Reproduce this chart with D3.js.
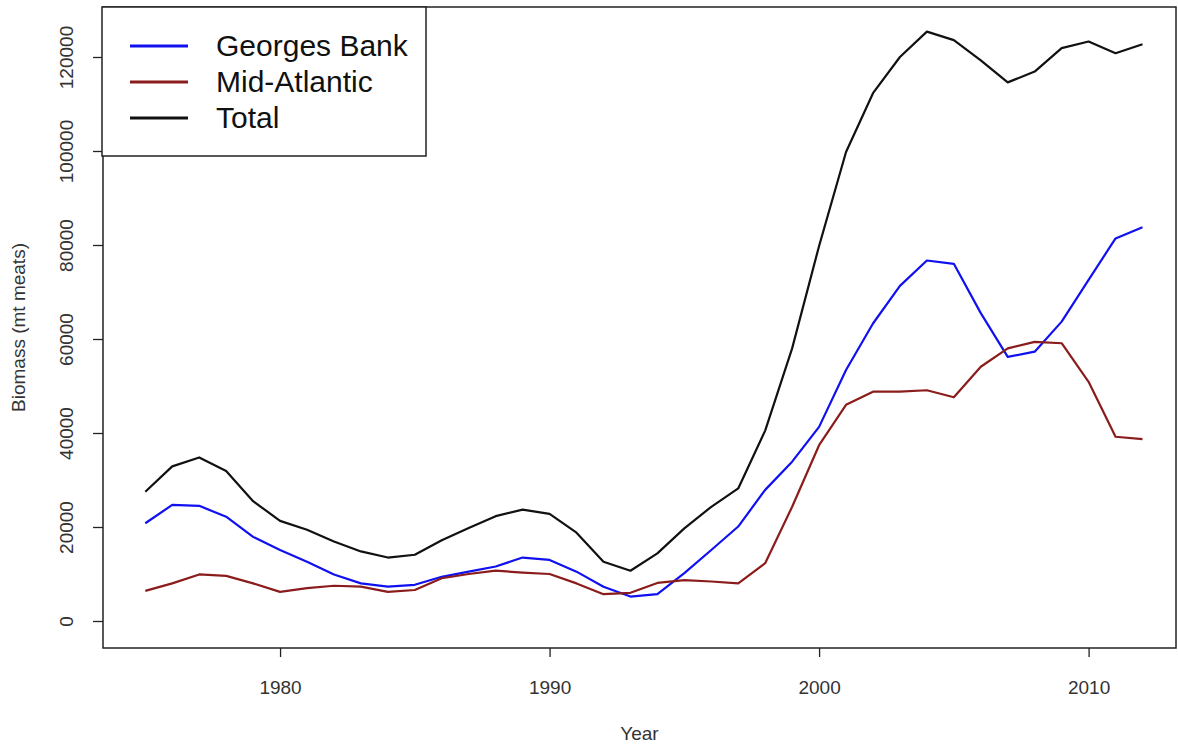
<!DOCTYPE html>
<html>
<head>
<meta charset="utf-8">
<script src="https://cdn.jsdelivr.net/npm/d3@7"></script>
<style>
  html, body { margin: 0; padding: 0; background: #fff; }
  svg { display: block; font-family: "Liberation Sans", Arial, sans-serif; }
</style>
</head>
<body>
<svg id="chart" width="1178" height="747"></svg>
<script>
// Sea scallop biomass (mt meats) by region, 1975-2012
const years = d3.range(1975, 2013);

const georgesBank = [
  20800, 24700, 24500, 22200, 17900, 15100, 12600, 9900, 8000, 7300,
  7700, 9400, 10500, 11600, 13500, 13000, 10500, 7300, 5200, 5700,
  10200, 15100, 20100, 27900, 33900, 41300, 53400, 63300, 71300, 76700,
  76000, 65500, 56200, 57300, 63700, 72600, 81400, 83800
];

const midAtlantic = [
  6400, 8000, 9900, 9600, 8000, 6200, 7000, 7500, 7300, 6200,
  6600, 9100, 10000, 10700, 10300, 10000, 8000, 5700, 6000, 8100,
  8700, 8400, 8000, 12300, 24300, 37400, 46000, 48800, 48800, 49100,
  47600, 54100, 58000, 59400, 59100, 50900, 39200, 38700
];

const total = [
  27500, 32900, 34800, 31900, 25500, 21300, 19400, 16900, 14800, 13500,
  14100, 17200, 19800, 22300, 23700, 22800, 18800, 12600, 10700, 14400,
  19700, 24300, 28200, 40500, 58000, 79800, 99800, 112300, 120000, 125400,
  123600, 119300, 114600, 116900, 121900, 123300, 120800, 122700
];

const seriesNames = ["Georges Bank", "Mid-Atlantic", "Total"];
const seriesColors = ["#1010f0", "#8b1c1c", "#111111"];
const seriesValues = [georgesBank, midAtlantic, total];

const xTicks = [1980, 1990, 2000, 2010];
const yTicks = [0, 20000, 40000, 60000, 80000, 100000, 120000];

const svg = d3.select("#chart");

// plot frame
const frame = { left: 103, right: 1176, top: 7, bottom: 648 };

const x = d3.scaleLinear().domain([1975, 2012]).range([145.3, 1142.5]);
const y = d3.scaleLinear().domain([0, 120000]).range([621, 57]);

// axes
const xAxis = d3.axisBottom(x).tickValues(xTicks).tickFormat(d3.format("d"))
  .tickSizeOuter(0).tickSizeInner(9).tickPadding(24);
const gx = svg.append("g").attr("transform", `translate(0,${frame.bottom})`).call(xAxis);
gx.select(".domain").remove();
gx.selectAll(".tick line").attr("stroke", "#222").attr("stroke-width", 1.3);
gx.selectAll(".tick text").attr("font-size", 19).attr("fill", "#333")
  .attr("font-family", "Liberation Sans, Arial, sans-serif");

const yAxis = d3.axisLeft(y).tickValues(yTicks).tickFormat(d3.format("d"))
  .tickSizeOuter(0).tickSizeInner(10);
const gy = svg.append("g").attr("transform", `translate(${frame.left},0)`).call(yAxis);
gy.select(".domain").remove();
gy.selectAll(".tick line").attr("stroke", "#222").attr("stroke-width", 1.3);
gy.selectAll(".tick text")
  .attr("font-size", 19).attr("fill", "#333")
  .attr("font-family", "Liberation Sans, Arial, sans-serif")
  .attr("text-anchor", "middle")
  .attr("x", null).attr("dy", null)
  .attr("transform", "translate(-35,0) rotate(-90)")
  .attr("dominant-baseline", "middle");

// box around plot region
svg.append("rect")
  .attr("x", frame.left).attr("y", frame.top)
  .attr("width", frame.right - frame.left).attr("height", frame.bottom - frame.top)
  .attr("fill", "none").attr("stroke", "#222").attr("stroke-width", 1.5);

// axis titles
svg.append("text")
  .attr("x", (frame.left + frame.right) / 2).attr("y", 740)
  .attr("text-anchor", "middle").attr("font-size", 19).attr("fill", "#333")
  .text("Year");

svg.append("text")
  .attr("transform", `translate(25,${(frame.top + frame.bottom) / 2}) rotate(-90)`)
  .attr("text-anchor", "middle").attr("font-size", 19).attr("fill", "#333")
  .text("Biomass (mt meats)");

// series lines
const line = d3.line().x((d, i) => x(years[i])).y(d => y(d));
seriesValues.forEach((vals, k) => {
  svg.append("path")
    .datum(vals)
    .attr("d", line)
    .attr("fill", "none")
    .attr("stroke", seriesColors[k])
    .attr("stroke-width", 2.2)
    .attr("stroke-linejoin", "round");
});

// legend
const legend = svg.append("g");
legend.append("rect")
  .attr("x", 102).attr("y", 7).attr("width", 324).attr("height", 149)
  .attr("fill", "#fff").attr("stroke", "#222").attr("stroke-width", 1.5);
const legendRows = [46, 82, 118];
seriesNames.forEach((name, k) => {
  legend.append("line")
    .attr("x1", 130).attr("x2", 188)
    .attr("y1", legendRows[k]).attr("y2", legendRows[k])
    .attr("stroke", seriesColors[k]).attr("stroke-width", 3.2);
  legend.append("text")
    .attr("x", 216).attr("y", legendRows[k] + 10)
    .attr("font-size", 30).attr("fill", "#111")
    .text(name);
});
</script>
</body>
</html>
